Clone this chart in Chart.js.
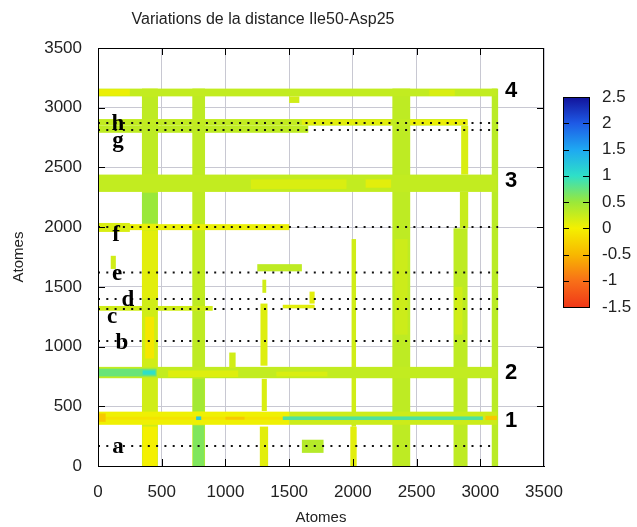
<!DOCTYPE html>
<html>
<head>
<meta charset="utf-8">
<script src="https://cdn.jsdelivr.net/npm/chart.js@4.4.0/dist/chart.umd.min.js"></script>
<style>
  html, body { margin: 0; padding: 0; background: #fff; }
  #wrap { width: 637px; height: 527px; }
</style>
</head>
<body>
<div id="wrap"><canvas id="map" width="637" height="527"></canvas></div>
<script>
// ---- axes / colour scale ----
const axisMax = 3500;
const cbTicks = [-1.5, -1, -0.5, 0, 0.5, 1, 1.5, 2, 2.5];
const cbColors = ['#f03818', '#f87018', '#f8b800', '#f4f000', '#9ae83a', '#2ee0c8', '#1ea8f2', '#1e5ae6', '#12129a'];

// ---- dotted reference lines a..h ----
const dotNames = ['a', 'b', 'c', 'd', 'e', 'f', 'g', 'h'];
const dotY     = [167, 1047, 1315, 1398, 1620, 2001, 2813, 2872];
const dotEnd   = [3080, 3095, 3140, 3140, 3140, 3140, 3140, 3140];
const dotNameX = [157, 188, 110, 235, 149, 141, 157, 157];
const dotNameY = [160, 1030, 1245, 1390, 1605, 1930, 2720, 2860];

// ---- numbered bands 1..4 ----
const bandNames = ['1', '2', '3', '4'];
const bandNameX = 3241;
const bandNameY = [377, 779, 2386, 3140];

// ---- heat map cells: [x0, x1, y0, y1, value] ----
const vBand1 = [
  [345, 470, 0, 3160, 0.2],
  [350, 465, 0, 330, 0.0],
  [370, 440, 900, 1250, -0.08],
  [345, 470, 1400, 1970, 0.1],
  [345, 470, 2030, 2290, 0.5],
  [345, 470, 2440, 3095, 0.3]
];
const vBand2 = [
  [740, 840, 0, 3160, 0.3],
  [745, 835, 0, 340, 0.62],
  [745, 835, 460, 730, 0.45],
  [750, 830, 1400, 1980, 0.28]
];
const vBand3 = [
  [1270, 1335, 0, 330, 0.1],
  [1285, 1325, 460, 730, 0.15],
  [1275, 1330, 840, 1360, 0.12],
  [1290, 1320, 1450, 1560, 0.2]
];
const vBand4 = [
  [1980, 2030, 0, 330, 0.1],
  [1990, 2025, 330, 1900, 0.2]
];
const vBand5 = [
  [2310, 2450, 0, 3160, 0.3],
  [2330, 2430, 1100, 1900, 0.22]
];
const vBand6 = [
  [2790, 2900, 0, 1990, 0.3],
  [2800, 2860, 1100, 1500, 0.2],
  [2840, 2905, 1990, 2295, 0.25],
  [2850, 2905, 2440, 2850, 0.15]
];
const vBand7 = [
  [3090, 3140, 0, 3160, 0.32]
];
const hBand1 = [
  [0, 1500, 345, 455, 0.03],
  [1500, 3130, 345, 455, 0.22],
  [0, 1500, 388, 412, -0.12],
  [1450, 3020, 385, 415, 0.85],
  [0, 60, 370, 440, -0.35],
  [1000, 1150, 388, 412, -0.35],
  [3040, 3130, 385, 420, -0.35],
  [770, 810, 385, 415, 1.2]
];
const hBand2 = [
  [0, 3130, 735, 830, 0.28],
  [0, 460, 750, 815, 0.72],
  [350, 450, 765, 800, 1.0],
  [550, 1100, 745, 800, 0.12],
  [1400, 1800, 750, 790, 0.15]
];
const hBand3 = [
  [0, 3130, 2295, 2440, 0.28],
  [1200, 1950, 2320, 2400, 0.15],
  [2100, 2300, 2330, 2400, 0.1]
];
const hBand4 = [
  [0, 3130, 3095, 3160, 0.28],
  [0, 250, 3100, 3155, 0.05],
  [1500, 1580, 3040, 3095, 0.2],
  [2600, 2800, 3100, 3150, 0.15]
];
const hBandGH = [
  [0, 2900, 2850, 2905, 0.28],
  [0, 1650, 2790, 2850, 0.3],
  [1600, 2300, 2855, 2900, 0.1],
  [2450, 2900, 2855, 2900, 0.05]
];
const hBandF = [
  [0, 1500, 1975, 2025, 0.05],
  [0, 250, 1960, 2035, 0.15]
];
const hBandC = [
  [0, 900, 1300, 1340, 0.2],
  [1450, 1700, 1320, 1350, 0.1]
];
const spots = [
  [1600, 1770, 110, 220, 0.35],
  [1250, 1600, 1630, 1690, 0.3],
  [1030, 1080, 820, 950, 0.2],
  [1660, 1700, 1360, 1460, 0.1],
  [100, 140, 1650, 1760, 0.2]
];

const cells = [].concat(vBand1, vBand2, vBand3, vBand4, vBand5, vBand6, vBand7,
  hBandC, hBandF, hBandGH, hBand4, hBand3, hBand2, hBand1, spots);

// ---- helpers ----
function hexRgb(h) {
  return [parseInt(h.slice(1, 3), 16), parseInt(h.slice(3, 5), 16), parseInt(h.slice(5, 7), 16)];
}
function colorOf(v) {
  if (v <= cbTicks[0]) return cbColors[0];
  for (let i = 1; i < cbTicks.length; i++) {
    if (v <= cbTicks[i]) {
      const t = (v - cbTicks[i - 1]) / (cbTicks[i] - cbTicks[i - 1]);
      const a = hexRgb(cbColors[i - 1]), b = hexRgb(cbColors[i]);
      const c = a.map((q, k) => Math.round(q + (b[k] - q) * t));
      return 'rgb(' + c.join(',') + ')';
    }
  }
  return cbColors[cbColors.length - 1];
}

const FONT = '"Liberation Sans", Arial, sans-serif';

const heatPlugin = {
  id: 'heat',
  beforeDatasetsDraw(chart) {
    const { ctx, chartArea: a, scales: { x, y } } = chart;
    ctx.save();
    ctx.beginPath();
    ctx.rect(a.left, a.top, a.right - a.left, a.bottom - a.top);
    ctx.clip();
    for (const c of cells) {
      const x0 = x.getPixelForValue(c[0]), x1 = x.getPixelForValue(c[1]);
      const y0 = y.getPixelForValue(c[2]), y1 = y.getPixelForValue(c[3]);
      ctx.fillStyle = colorOf(c[4]);
      ctx.fillRect(x0, y1, x1 - x0, y0 - y1);
    }
    ctx.restore();
  },
  afterDraw(chart) {
    const { ctx, chartArea: a, scales: { x, y } } = chart;
    ctx.save();
    // frame + inward ticks
    ctx.strokeStyle = '#000';
    ctx.lineWidth = 1;
    ctx.strokeRect(a.left + 0.5, a.top + 0.5, a.right - a.left - 1, a.bottom - a.top);
    ctx.beginPath();
    for (let v = 500; v < axisMax; v += 500) {
      const px = Math.round(x.getPixelForValue(v)) + 0.5;
      ctx.moveTo(px, a.bottom); ctx.lineTo(px, a.bottom - 7);
      ctx.moveTo(px, a.top); ctx.lineTo(px, a.top + 7);
      const py = Math.round(y.getPixelForValue(v)) + 0.5;
      ctx.moveTo(a.left, py); ctx.lineTo(a.left + 7, py);
      ctx.moveTo(a.right, py); ctx.lineTo(a.right - 7, py);
    }
    ctx.stroke();

    // letters a..h and numbers 1..4
    ctx.fillStyle = '#000';
    ctx.textAlign = 'center';
    ctx.textBaseline = 'middle';
    ctx.font = 'bold 23px "Liberation Serif", serif';
    dotNames.forEach((n, i) => {
      ctx.fillText(n, x.getPixelForValue(dotNameX[i]), y.getPixelForValue(dotNameY[i]));
    });
    ctx.font = 'bold 22px ' + FONT;
    bandNames.forEach((n, i) => {
      ctx.fillText(n, x.getPixelForValue(bandNameX), y.getPixelForValue(bandNameY[i]));
    });

    // title
    ctx.font = '16px ' + FONT;
    ctx.fillStyle = '#222';
    ctx.fillText('Variations de la distance Ile50-Asp25', 263, 20);

    // colour bar
    const cbL = 563, cbR = 589, cbT = 97, cbB = 307;
    const lo = cbTicks[0], hi = cbTicks[cbTicks.length - 1];
    const cbY = v => cbB - (v - lo) / (hi - lo) * (cbB - cbT);
    const g = ctx.createLinearGradient(0, cbB, 0, cbT);
    cbTicks.forEach((v, i) => g.addColorStop((v - lo) / (hi - lo), cbColors[i]));
    ctx.fillStyle = g;
    ctx.fillRect(cbL, cbT, cbR - cbL, cbB - cbT);
    ctx.strokeStyle = '#000';
    ctx.strokeRect(cbL + 0.5, cbT + 0.5, cbR - cbL, cbB - cbT);
    ctx.beginPath();
    cbTicks.forEach(v => {
      const py = Math.round(cbY(v)) + 0.5;
      ctx.moveTo(cbL, py); ctx.lineTo(cbL + 6, py);
      ctx.moveTo(cbR, py); ctx.lineTo(cbR - 6, py);
    });
    ctx.stroke();
    ctx.fillStyle = '#222';
    ctx.textAlign = 'left';
    ctx.font = '17px ' + FONT;
    cbTicks.forEach(v => ctx.fillText(String(v), 602, cbY(v)));
    ctx.restore();
  }
};

const dotSets = dotY.map((v, i) => ({
  type: 'line',
  data: [{ x: 0, y: v }, { x: dotEnd[i], y: v }],
  borderColor: '#111',
  borderWidth: 2,
  borderDash: [2, 6.3],
  pointRadius: 0,
  fill: false
}));

const axisStyle = (isX) => ({
  type: 'linear',
  min: 0,
  max: axisMax,
  ticks: {
    stepSize: 500,
    color: '#222',
    font: { family: FONT, size: 17 },
    padding: isX ? 16 : 16,
    callback: v => String(v)
  },
  grid: { color: '#c8c8d2', lineWidth: 1, drawTicks: false },
  border: { display: true, color: '#000' },
  title: {
    display: true,
    text: 'Atomes',
    color: '#222',
    font: { family: FONT, size: 15 },
    padding: isX ? { top: 0, bottom: 0 } : { top: 10, bottom: 0 }
  },
  afterFit(scale) {
    if (isX) scale.height = 61; else scale.width = 98;
  }
});

new Chart(document.getElementById('map'), {
  type: 'scatter',
  data: { datasets: dotSets },
  options: {
    responsive: false,
    animation: false,
    layout: { padding: { top: 48, right: 93, left: 0, bottom: 0 } },
    plugins: { legend: { display: false }, tooltip: { enabled: false } },
    scales: { x: axisStyle(true), y: axisStyle(false) }
  },
  plugins: [heatPlugin]
});
</script>
</body>
</html>
